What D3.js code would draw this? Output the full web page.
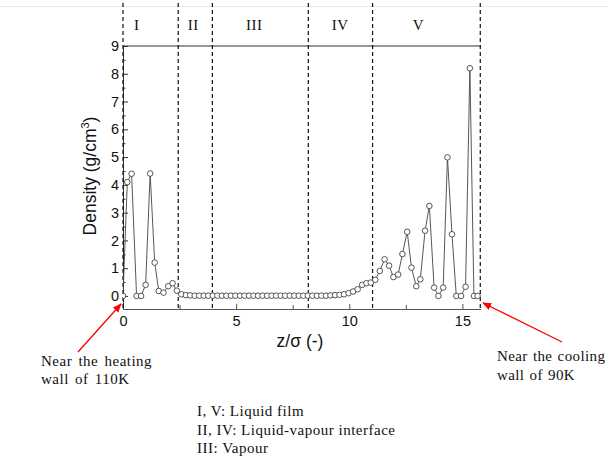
<!DOCTYPE html>
<html>
<head>
<meta charset="utf-8">
<script src="https://cdn.jsdelivr.net/npm/d3@7"></script>
<style>
  body { margin: 0; background: #fff; }
  svg { display: block; }
  .tick text { font-family: "Liberation Sans", Arial, sans-serif; font-size: 14.5px; fill: #111; }
  .serif { font-family: "Liberation Serif", "Times New Roman", serif; fill: #111; }
</style>
</head>
<body>
<div id="chart"></div>
<script>
// z/sigma positions of the profile points
const zValues = [
  0.00, 0.19, 0.38, 0.60, 0.80, 1.00, 1.20, 1.40, 1.58, 1.79, 2.00, 2.19, 2.38, 2.58, 2.78, 2.97,
  3.17, 3.37, 3.57, 3.77, 3.97, 4.17, 4.37, 4.57, 4.77, 4.97, 5.17, 5.37, 5.57, 5.77, 5.97,
  6.17, 6.37, 6.57, 6.77, 6.97, 7.17, 7.37, 7.57, 7.77, 7.97, 8.17, 8.37, 8.57, 8.77, 8.97,
  9.17, 9.37, 9.57, 9.77, 9.97, 10.17, 10.37,
  10.57, 10.76, 10.95, 11.15, 11.35, 11.56, 11.76, 11.95, 12.16, 12.35, 12.56, 12.75, 12.96,
  13.14, 13.35, 13.54, 13.75, 13.94, 14.15, 14.34, 14.54, 14.73, 14.94, 15.14, 15.33, 15.51, 15.67
];

// densidad (g/cm3) en cada punto
const density = [
  0, 4.1, 4.4, 0, 0, 0.4, 4.41, 1.2, 0.18, 0.12, 0.35, 0.46, 0.19, 0.06, 0.03, 0.02,
  0.01, 0.01, 0.01, 0.01, 0.01, 0.01, 0.01, 0.01, 0.01, 0.01, 0.01, 0.01, 0.01, 0.01, 0.01,
  0.01, 0.01, 0.01, 0.01, 0.01, 0.01, 0.01, 0.01, 0.01, 0.01, 0.01, 0.01, 0.01, 0.01, 0.01,
  0.02, 0.03, 0.04, 0.06, 0.10, 0.16, 0.24,
  0.4, 0.46, 0.48, 0.58, 0.9, 1.32, 1.09, 0.68, 0.77, 1.51, 2.31, 1.02, 0.35,
  0.6, 2.35, 3.24, 0.3, 0, 0.3, 4.99, 2.22, 0, 0, 0.33, 8.2, 0, 0
];

// limites de las regiones (lineas discontinuas) y sus etiquetas
const regionBounds = [0, 2.44, 3.95, 8.19, 11.03, 15.79];
const regionLabels = ["I", "II", "III", "IV", "V"];
const regionLabelZ = [0.61, 3.11, 5.8, 9.6, 13.06];

const xTicks = [0, 5, 10, 15];
const xMinor = [2.5, 7.5, 12.5];
const yTicks = [0, 1, 2, 3, 4, 5, 6, 7, 8, 9];
const yMinor = [0.5, 1.5, 2.5, 3.5, 4.5, 5.5, 6.5, 7.5, 8.5];

const legendLines = ["I, V: Liquid film", "II, IV: Liquid-vapour interface", "III: Vapour"];

const W = 607, H = 457;
const svg = d3.select("#chart").append("svg")
  .attr("width", W).attr("height", H);

svg.append("rect").attr("width", W).attr("height", H).attr("fill", "#fff");

// linea verde tenue en la parte superior
svg.append("line")
  .attr("x1", 0).attr("x2", W).attr("y1", 6.5).attr("y2", 6.5)
  .attr("stroke", "#dcefdc").attr("stroke-width", 1);

const x = d3.scaleLinear().domain([0, 15.8]).range([123, 480.5]);
const y = d3.scaleLinear().domain([-0.47, 9]).range([309, 46]);

// ejes
const gx = svg.append("g").attr("transform", "translate(0,309)");
gx.call(d3.axisBottom(x).tickValues(xTicks).tickSize(-5).tickSizeOuter(0).tickPadding(7));
gx.append("g").call(d3.axisBottom(x).tickValues(xMinor).tickSize(-4).tickFormat(""))
  .select(".domain").remove();
gx.selectAll("line, path").attr("stroke", "#555");

const gy = svg.append("g").attr("transform", "translate(123,0)");
gy.call(d3.axisLeft(y).tickValues(yTicks).tickSize(-5).tickSizeOuter(0).tickPadding(4));
gy.append("g").call(d3.axisLeft(y).tickValues(yMinor).tickSize(-2.5).tickFormat(""))
  .select(".domain").remove();
gy.selectAll("line, path").attr("stroke", "#333");

// borde superior
svg.append("line")
  .attr("x1", x(0)).attr("x2", x(15.8)).attr("y1", y(9)).attr("y2", y(9))
  .attr("stroke", "#333").attr("stroke-width", 1.1);

// lineas de region
svg.append("g").selectAll("line")
  .data(regionBounds)
  .enter().append("line")
  .attr("x1", d => x(d)).attr("x2", d => x(d))
  .attr("y1", 3).attr("y2", 310)
  .attr("stroke", "#111").attr("stroke-width", 1.2)
  .attr("stroke-dasharray", "4,3");

svg.append("g").selectAll("text")
  .data(regionLabels)
  .enter().append("text")
  .attr("class", "serif")
  .attr("x", (d, i) => x(regionLabelZ[i]))
  .attr("y", 30)
  .attr("text-anchor", "middle")
  .attr("font-size", 15)
  .attr("letter-spacing", 0.5)
  .text(d => d);

// serie
const points = zValues.map((z, i) => ({ z, v: density[i] }));

svg.append("clipPath").attr("id", "plotClip")
  .append("rect").attr("x", 123).attr("y", 40).attr("width", 360).attr("height", 270);

const plot = svg.append("g").attr("clip-path", "url(#plotClip)");

plot.append("path")
  .datum(points)
  .attr("fill", "none")
  .attr("stroke", "#444")
  .attr("stroke-width", 0.9)
  .attr("d", d3.line().x(d => x(d.z)).y(d => y(d.v)));

plot.selectAll("circle")
  .data(points)
  .enter().append("circle")
  .attr("cx", d => x(d.z))
  .attr("cy", d => y(d.v))
  .attr("r", 2.8)
  .attr("fill", "#fff")
  .attr("stroke", "#444")
  .attr("stroke-width", 0.9);

// titulos de ejes
svg.append("text")
  .attr("x", 300).attr("y", 347)
  .attr("text-anchor", "middle")
  .attr("font-family", "Liberation Sans, Arial, sans-serif")
  .attr("font-size", 17.5).attr("fill", "#111")
  .text("z/σ (-)");

const yt = svg.append("text")
  .attr("transform", "translate(96,176) rotate(-90)")
  .attr("text-anchor", "middle")
  .attr("font-family", "Liberation Sans, Arial, sans-serif")
  .attr("font-size", 17.5).attr("fill", "#111");
yt.append("tspan").text("Density (g/cm");
yt.append("tspan").attr("font-size", 11).attr("dy", -7).text("3");
yt.append("tspan").attr("dy", 7).text(")");

// anotaciones con flechas rojas
const defs = svg.append("defs");
defs.append("marker")
  .attr("id", "redArrow")
  .attr("viewBox", "0 0 10 10")
  .attr("refX", 9).attr("refY", 5)
  .attr("markerWidth", 7).attr("markerHeight", 7)
  .attr("orient", "auto")
  .append("path").attr("d", "M0,1 L10,5 L0,9 Z").attr("fill", "#f00");

svg.append("line")
  .attr("x1", 78).attr("y1", 352).attr("x2", 121).attr("y2", 304)
  .attr("stroke", "#f00").attr("stroke-width", 1.3)
  .attr("marker-end", "url(#redArrow)");

svg.append("line")
  .attr("x1", 562).attr("y1", 342).attr("x2", 483).attr("y2", 303)
  .attr("stroke", "#f00").attr("stroke-width", 1.3)
  .attr("marker-end", "url(#redArrow)");

const noteLeft = svg.append("text").attr("class", "serif")
  .attr("font-size", 15).attr("letter-spacing", 0.5).attr("word-spacing", 2);
noteLeft.append("tspan").attr("x", 41).attr("y", 366).text("Near the heating");
noteLeft.append("tspan").attr("x", 41).attr("y", 384).text("wall of 110K");

const noteRight = svg.append("text").attr("class", "serif")
  .attr("font-size", 15).attr("letter-spacing", 0.4).attr("word-spacing", 1);
noteRight.append("tspan").attr("x", 497).attr("y", 361).text("Near the cooling");
noteRight.append("tspan").attr("x", 497).attr("y", 380).text("wall of 90K");

// leyenda de regiones
svg.append("g").selectAll("text")
  .data(legendLines)
  .enter().append("text")
  .attr("class", "serif")
  .attr("x", 197)
  .attr("y", (d, i) => 416 + i * 18.5)
  .attr("font-size", 15)
  .attr("letter-spacing", 0.5)
  .text(d => d);
</script>
</body>
</html>
